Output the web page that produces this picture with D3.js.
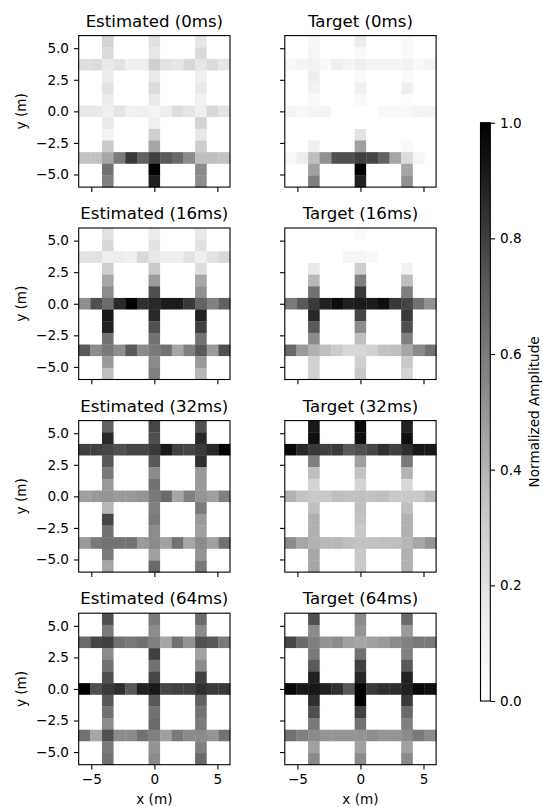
<!DOCTYPE html>
<html>
<head>
<meta charset="utf-8">
<script src="https://cdn.jsdelivr.net/npm/d3@7"></script>
<style>
  body { margin: 0; background: #fff; }
  svg { display: block; font-family: "DejaVu Sans", sans-serif; }
</style>
</head>
<body>
<div id="chart"></div>
<script>
// ---- data ----
const times = [0, 16, 32, 64];
const kinds = ['Estimated', 'Target'];
const xTicks = [-5, 0, 5];
const yTicks = [5, 2.5, 0, -2.5, -5];
const cbTicks = [0, 0.2, 0.4, 0.6, 0.8, 1.0];

const N = 13;                                   // 13 x 13 cells over [-6, 6]
const bandIdx = [2, 6, 10];                     // rows (top->bottom) and columns (left->right) on the grid lines
const lineRows = [0, 1, 3, 4, 5, 7, 8, 9, 11, 12]; // rows covered by the vertical lines outside the bands

// H = horizontal bands (rows 2, 6, 10), V = vertical lines (cols 2, 6, 10) at lineRows
const est0H = [
  [0.22, 0.23, 0.16, 0.20, 0.12, 0.12, 0.29, 0.20, 0.18, 0.25, 0.18, 0.23, 0.18],
  [0.17, 0.16, 0.12, 0.19, 0.11, 0.12, 0.09, 0.13, 0.22, 0.19, 0.12, 0.25, 0.19],
  [0.35, 0.35, 0.45, 0.60, 0.82, 0.69, 0.80, 0.72, 0.66, 0.54, 0.36, 0.36, 0.35]
];
const est0V = [
  [0.27, 0.23, 0.14, 0.20, 0.14, 0.16, 0.09, 0.32, 0.63, 0.58],
  [0.20, 0.17, 0.16, 0.23, 0.16, 0.12, 0.30, 0.45, 1.00, 0.89],
  [0.18, 0.24, 0.12, 0.16, 0.11, 0.27, 0.17, 0.30, 0.54, 0.53]
];
const tgt0H = [
  [0.05, 0.08, 0.10, 0.05, 0.12, 0.08, 0.12, 0.08, 0.08, 0.08, 0.10, 0.05, 0.08],
  [0.08, 0.05, 0.08, 0.08, 0, 0, 0, 0, 0.05, 0.05, 0.05, 0.08, 0.08],
  [0.05, 0.14, 0.36, 0.52, 0.75, 0.75, 0.80, 0.78, 0.69, 0.45, 0.23, 0.08, 0]
];
const tgt0V = [
  [0.05, 0.08, 0.13, 0.10, 0.05, 0, 0, 0.12, 0.47, 0.58],
  [0.14, 0.05, 0.03, 0.10, 0.05, 0, 0.20, 0.47, 1.00, 0.89],
  [0.05, 0.05, 0.03, 0.12, 0.02, 0, 0, 0.05, 0.45, 0.52]
];
const est16H = [
  [0.20, 0.20, 0.12, 0.14, 0.12, 0.25, 0.17, 0.13, 0.13, 0.20, 0.12, 0.20, 0.25],
  [0.53, 0.75, 0.65, 0.87, 1.00, 0.85, 0.87, 0.91, 0.91, 0.82, 0.69, 0.58, 0.69],
  [0.72, 0.54, 0.60, 0.53, 0.72, 0.54, 0.60, 0.63, 0.45, 0.58, 0.72, 0.49, 0.75]
];
const est16V = [
  [0.20, 0.25, 0.30, 0.45, 0.54, 0.92, 0.89, 0.63, 0.49, 0.36],
  [0.14, 0.20, 0.32, 0.49, 0.75, 0.87, 0.75, 0.63, 0.54, 0.58],
  [0.16, 0.20, 0.23, 0.45, 0.52, 0.89, 0.80, 0.63, 0.49, 0.39]
];
const tgt16H = [
  [0, 0, 0, 0, 0, 0.08, 0.08, 0.05, 0, 0, 0, 0, 0],
  [0.60, 0.72, 0.82, 0.89, 0.96, 0.89, 0.91, 0.91, 0.95, 0.82, 0.78, 0.63, 0.52],
  [0.66, 0.49, 0.41, 0.36, 0.31, 0.25, 0.25, 0.29, 0.35, 0.36, 0.45, 0.54, 0.63]
];
const tgt16V = [
  [0, 0, 0.16, 0.39, 0.63, 0.87, 0.72, 0.54, 0.29, 0.29],
  [0.03, 0, 0.30, 0.58, 0.82, 0.78, 0.54, 0.36, 0.29, 0.32],
  [0, 0, 0.10, 0.36, 0.58, 0.82, 0.75, 0.58, 0.32, 0.27]
];
const est32H = [
  [0.80, 0.80, 0.78, 0.75, 0.78, 0.78, 0.82, 0.92, 0.80, 0.78, 0.82, 0.87, 1.00],
  [0.47, 0.49, 0.51, 0.49, 0.49, 0.51, 0.60, 0.66, 0.45, 0.58, 0.51, 0.47, 0.58],
  [0.49, 0.60, 0.63, 0.63, 0.63, 0.49, 0.54, 0.47, 0.63, 0.45, 0.54, 0.47, 0.63]
];
const est32V = [
  [0.69, 0.87, 0.72, 0.60, 0.49, 0.39, 0.78, 0.63, 0.60, 0.45],
  [0.78, 0.75, 0.72, 0.54, 0.63, 0.58, 0.60, 0.54, 0.47, 0.66],
  [0.75, 0.87, 0.85, 0.49, 0.49, 0.60, 0.49, 0.47, 0.51, 0.60]
];
const tgt32H = [
  [0.97, 0.87, 0.82, 0.80, 0.82, 0.72, 0.75, 0.78, 0.85, 0.80, 0.85, 0.92, 0.92],
  [0.41, 0.35, 0.32, 0.32, 0.36, 0.35, 0.36, 0.35, 0.36, 0.32, 0.32, 0.32, 0.39],
  [0.54, 0.45, 0.41, 0.39, 0.39, 0.36, 0.35, 0.35, 0.36, 0.36, 0.39, 0.45, 0.51]
];
const tgt32V = [
  [0.92, 0.95, 0.58, 0.36, 0.27, 0.36, 0.41, 0.41, 0.45, 0.45],
  [0.97, 0.95, 0.47, 0.35, 0.27, 0.36, 0.35, 0.32, 0.32, 0.32],
  [0.89, 0.95, 0.60, 0.40, 0.25, 0.36, 0.41, 0.41, 0.41, 0.41]
];
const est64H = [
  [0.66, 0.78, 0.80, 0.63, 0.60, 0.63, 0.58, 0.45, 0.63, 0.51, 0.75, 0.72, 0.60],
  [1.00, 0.75, 0.82, 0.85, 0.72, 0.89, 0.92, 0.78, 0.80, 0.80, 0.85, 0.82, 0.82],
  [0.63, 0.45, 0.75, 0.54, 0.54, 0.63, 0.58, 0.47, 0.60, 0.54, 0.54, 0.51, 0.63]
];
const est64V = [
  [0.75, 0.60, 0.54, 0.63, 0.75, 0.72, 0.63, 0.54, 0.60, 0.63],
  [0.60, 0.54, 0.80, 0.63, 0.78, 0.72, 0.63, 0.66, 0.51, 0.54],
  [0.66, 0.54, 0.47, 0.54, 0.80, 0.69, 0.63, 0.60, 0.58, 0.66]
];
const tgt64H = [
  [0.78, 0.66, 0.58, 0.51, 0.54, 0.47, 0.45, 0.47, 0.49, 0.54, 0.58, 0.60, 0.60],
  [0.97, 0.92, 0.92, 0.89, 0.85, 0.72, 1.00, 0.82, 0.85, 0.85, 0.89, 0.97, 0.95],
  [0.63, 0.58, 0.54, 0.51, 0.51, 0.51, 0.51, 0.53, 0.51, 0.51, 0.54, 0.60, 0.54]
];
const tgt64V = [
  [0.75, 0.54, 0.60, 0.72, 0.89, 0.85, 0.75, 0.60, 0.47, 0.54],
  [0.54, 0.51, 0.63, 0.80, 0.87, 1.00, 0.80, 0.63, 0.47, 0.54],
  [0.66, 0.49, 0.58, 0.72, 0.89, 0.82, 0.66, 0.58, 0.47, 0.54]
];

// ---- layout ----
const WIDTH = 543, HEIGHT = 807;
const colX = [78.7, 284.8];
const rowY = [35.6, 228.0, 420.6, 613.2];
const PW = 151.3, PH = 151.5;
const TICK = 4.8, PAD = 4.9;
const FS_TICK = 13.6, FS_TITLE = 16.6, FS_LABEL = 13.6;
const CB = { x: 480.5, w: 9.8, y0: 122.7, y1: 701 };

const panelData = [
  [est0H, est0V, tgt0H, tgt0V],
  [est16H, est16V, tgt16H, tgt16V],
  [est32H, est32V, tgt32H, tgt32V],
  [est64H, est64V, tgt64H, tgt64V]
];

const color = d3.scaleSequential(d3.interpolateGreys).domain([0, 1]);

// builds the 13x13 grid from the bands + lines
function buildCells(H, V) {
  const cells = [];
  for (let r = 0; r < N; r++) {
    for (let c = 0; c < N; c++) {
      let v = 0;
      if (bandIdx.includes(r)) v = H[bandIdx.indexOf(r)][c];
      else if (bandIdx.includes(c)) v = V[bandIdx.indexOf(c)][lineRows.indexOf(r)];
      cells.push({ r, c, v });
    }
  }
  return cells;
}

const svg = d3.select('#chart').append('svg')
  .attr('width', WIDTH)
  .attr('height', HEIGHT);

const x = d3.scaleLinear().domain([-6, 6]).range([0, PW]);
const y = d3.scaleLinear().domain([-6, 6]).range([PH, 0]);
const edge = d3.scaleLinear().domain([0, N]).range([-6, 6]);     // cell index -> data coordinate

times.forEach((t, row) => {
  kinds.forEach((kind, col) => {
    const [H, V] = col === 0 ? panelData[row].slice(0, 2) : panelData[row].slice(2, 4);
    const g = svg.append('g')
      .attr('transform', `translate(${colX[col]},${rowY[row]})`);

    g.selectAll('rect.cell')
      .data(buildCells(H, V))
      .join('rect')
      .attr('class', 'cell')
      .attr('x', d => x(edge(d.c)))
      .attr('y', d => y(-edge(d.r)))
      .attr('width', d => x(edge(d.c + 1)) - x(edge(d.c)) + 0.3)
      .attr('height', d => y(-edge(d.r + 1)) - y(-edge(d.r)) + 0.3)
      .attr('fill', d => color(d.v));

    // axes
    const xAxis = d3.axisBottom(x).tickValues(xTicks).tickSize(TICK).tickPadding(PAD)
      .tickFormat(row === times.length - 1 ? d3.format('') : () => '');
    const yAxis = d3.axisLeft(y).tickValues(yTicks).tickSize(TICK).tickPadding(PAD)
      .tickFormat(col === 0 ? d3.format('.1f') : () => '');

    const gx = g.append('g').attr('transform', `translate(0,${PH})`).call(xAxis);
    const gy = g.append('g').call(yAxis);
    [gx, gy].forEach(a => {
      a.select('.domain').remove();
      a.selectAll('line').attr('stroke', '#000').attr('stroke-width', 1.1);
      a.selectAll('text').attr('fill', '#000')
        .style('font-size', FS_TICK + 'px')
        .style('font-family', '"DejaVu Sans", sans-serif');
    });
    gx.selectAll('text').text(d => row === times.length - 1 ? (d < 0 ? '\u2212' + Math.abs(d) : d) : '');
    gy.selectAll('text').text(d => col === 0 ? (d < 0 ? '\u2212' + Math.abs(d).toFixed(1) : d.toFixed(1)) : '');

    g.append('rect')
      .attr('width', PW).attr('height', PH)
      .attr('fill', 'none').attr('stroke', '#000').attr('stroke-width', 1.1);

    g.append('text')
      .attr('x', PW / 2).attr('y', -9)
      .attr('text-anchor', 'middle')
      .style('font-size', FS_TITLE + 'px')
      .text(`${kind} (${t}ms)`);

    if (col === 0) {
      g.append('text')
        .attr('transform', `translate(${21 - colX[0]},${PH / 2}) rotate(-90)`)
        .attr('text-anchor', 'middle')
        .attr('dy', '0.35em')
        .style('font-size', FS_LABEL + 'px')
        .text('y (m)');
    }
    if (row === times.length - 1) {
      g.append('text')
        .attr('x', PW / 2).attr('y', 804 - rowY[row])
        .attr('text-anchor', 'middle')
        .style('font-size', FS_LABEL + 'px')
        .text('x (m)');
    }
  });
});

// ---- colorbar ----
const defs = svg.append('defs');
const grad = defs.append('linearGradient')
  .attr('id', 'cbgrad')
  .attr('x1', 0).attr('y1', 1).attr('x2', 0).attr('y2', 0);
d3.range(0, 1.0001, 0.05).forEach(s => {
  grad.append('stop').attr('offset', s).attr('stop-color', color(s));
});

const cbScale = d3.scaleLinear().domain([0, 1]).range([CB.y1, CB.y0]);
svg.append('rect')
  .attr('x', CB.x).attr('y', CB.y0)
  .attr('width', CB.w).attr('height', CB.y1 - CB.y0)
  .attr('fill', 'url(#cbgrad)')
  .attr('stroke', '#000').attr('stroke-width', 1.1);

const cbAxis = svg.append('g')
  .attr('transform', `translate(${CB.x + CB.w},0)`)
  .call(d3.axisRight(cbScale).tickValues(cbTicks).tickSize(TICK).tickPadding(PAD).tickFormat(d3.format('.1f')));
cbAxis.select('.domain').remove();
cbAxis.selectAll('line').attr('stroke', '#000').attr('stroke-width', 1.1);
cbAxis.selectAll('text').attr('fill', '#000')
  .style('font-size', FS_TICK + 'px')
  .style('font-family', '"DejaVu Sans", sans-serif');

svg.append('text')
  .attr('transform', `translate(534,${(CB.y0 + CB.y1) / 2}) rotate(-90)`)
  .attr('text-anchor', 'middle')
  .attr('dy', '0.35em')
  .style('font-size', FS_LABEL + 'px')
  .text('Normalized Amplitude');
</script>
</body>
</html>
